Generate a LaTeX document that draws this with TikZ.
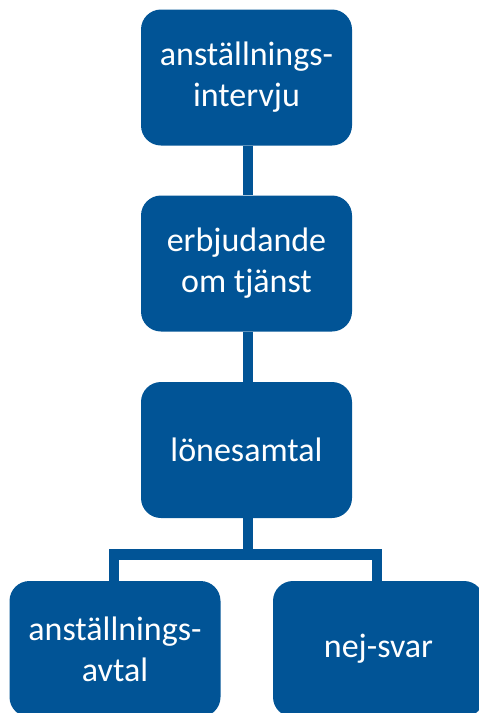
\documentclass[tikz,border=0pt]{standalone}
\usepackage{fontspec}
\setmainfont{Carlito}
\definecolor{boxblue}{RGB}{1,84,150}
\begin{document}
\begin{tikzpicture}[x=1pt,y=-1pt,
  box/.style={draw=none,fill=boxblue,text=white,rounded corners=20pt,
    minimum width=211pt,minimum height=136pt,inner sep=0pt,align=center,
    font=\fontsize{34}{41}\selectfont},
  conn/.style={draw=boxblue,line width=10.7pt}]
\useasboundingbox (0,0) rectangle (479,713);
\clip (0,0) rectangle (479,713);
\node[box] (a) at (246.5,77.5) {anställnings-\\intervju};
\node[box] (b) at (246.5,263.5) {erbjudande\\om tjänst};
\node[box] (c) at (246.5,450) {lönesamtal};
\node[box] (d) at (115,649) {anställnings-\\avtal};
\node[box] (e) at (378.5,649) {nej-svar};
\draw[conn] (a.south -| 248,0) -- (b.north -| 248,0);
\draw[conn] (b.south -| 248,0) -- (c.north -| 248,0);
\coordinate (h) at (248,554.5);
\draw[conn] (c.south -| 248,0) -- (h);
\draw[conn] (d.north -| 114,0) -- (114,554.5) -- (377,554.5) -- (e.north -| 377,0);
\end{tikzpicture}
\end{document}
